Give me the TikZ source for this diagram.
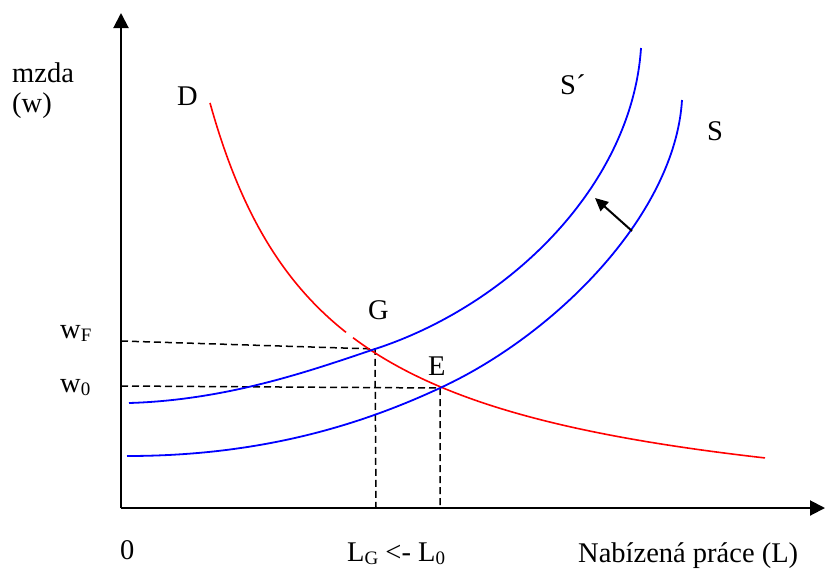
\documentclass[tikz,border=0pt]{standalone}
\usepackage{fontspec}
\setmainfont{Liberation Serif}
\usetikzlibrary{arrows.meta}
\definecolor{cSupply}{HTML}{0000FF}
\definecolor{cDemand}{HTML}{FF0000}
\newcommand{\sbs}[1]{\raisebox{-3pt}{\fontsize{19}{19}\selectfont #1}}

\begin{document}
\begin{tikzpicture}[
  x=1pt, y=-1pt,
  >=Stealth,
  font=\fontsize{28.5}{32}\selectfont,
  axis/.style={line width=2pt, -{Triangle[length=15pt,width=15pt]}},
  scurve/.style={draw=cSupply, line width=1.8pt},
  dcurve/.style={draw=cDemand, line width=1.6pt},
  guide/.style={line width=1.5pt, dash pattern=on 7pt off 4pt},
  shiftarr/.style={line width=2pt, -{Triangle[length=13pt,width=12pt]}},
  lbl/.style={inner sep=0pt, anchor=base west},
]
\useasboundingbox (0,0) rectangle (826,570);

% ---- Axes ----
\coordinate (O) at (121,508);
\coordinate (ytip) at (121,13);
\coordinate (xtip) at (825,508);
\draw[axis] (O) -- (ytip);
\draw[axis] (O) -- (xtip);

% ---- Equilibria ----
\coordinate (G) at (375,349);
\coordinate (E) at (440,388);
\coordinate (wF) at (121,341);
\coordinate (w0) at (121,386);
\coordinate (LG) at (376,508);
\coordinate (L0) at (440,508);

\draw[guide] (wF) -- (G) -- (LG);
\draw[guide] (w0) -- (E) -- (L0);

% ---- Demand D ----
\draw[dcurve] plot[domain=210:346, samples=60]
  (\x, {534.7-100*(518.09/(\x-90))});
\draw[dcurve] plot[domain=353:765, samples=80]
  (\x, {534.7-100*(518.09/(\x-90))});

% ---- Supply S and S' ----
\coordinate (S0) at (127,456);
\coordinate (S1) at (682,100);
\coordinate (Sp0) at (129,403);
\coordinate (Sp1) at (641,48);
\draw[scurve] (S0) .. controls (250,456) and (350,430) .. (E)
  .. controls (555,335) and (675,215) .. (S1);
\draw[scurve] (Sp0) .. controls (230,400) and (315,369) .. (G)
  .. controls (510,305) and (632,185) .. (Sp1);

% shift of supply
\coordinate (shS) at (632,231);
\coordinate (shT) at (595,198);
\draw[shiftarr] (shS) -- (shT);

% ---- Labels ----
\node[lbl] (mzda) at (12,82) {mzda};
\node[lbl] (wlab) at (12,112) {(w)};
\node[lbl] (Dlab) at (177,105) {D};
\node[lbl] (Splab) at (560,94) {S´};
\node[lbl] (Slab) at (707,140) {S};
\node[lbl] (Glab) at (368,319) {G};
\node[lbl] (Elab) at (428,375) {E};
\node[lbl] (wFlab) at (60,338) {w\sbs{F}};
\node[lbl] (w0lab) at (60,392) {w\sbs{0}};
\node[lbl] (zero) at (120,559) {0};
\node[lbl] (Llab) at (347,561) {L\sbs{G} <- L\sbs{0}};
\node[lbl] (xlab) at (578,562) {Nabízená práce (L)};

\end{tikzpicture}
\end{document}
